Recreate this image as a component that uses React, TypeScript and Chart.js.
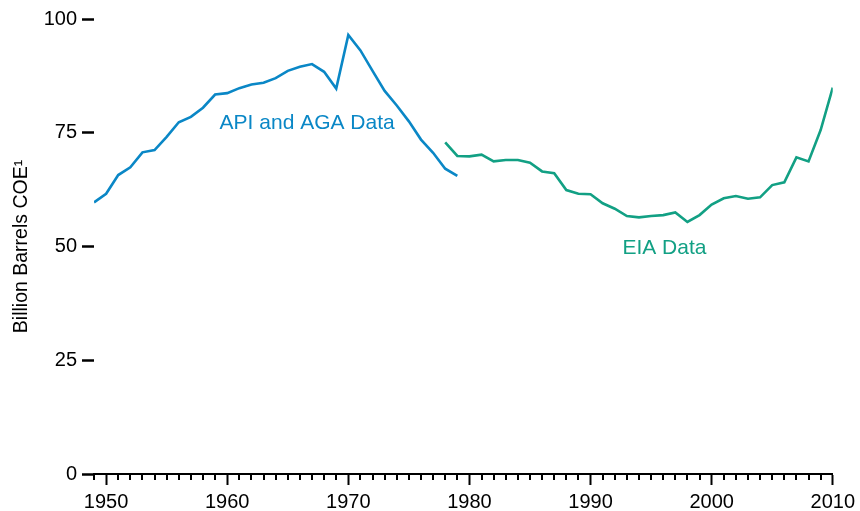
import React, { useEffect, useRef } from "react";
import { Chart, registerables } from "chart.js";

Chart.register(...registerables);

// ---- data ----
const apiYears = [1949, 1950, 1951, 1952, 1953, 1954, 1955, 1956, 1957, 1958, 1959, 1960, 1961, 1962, 1963, 1964, 1965, 1966, 1967, 1968, 1969, 1970, 1971, 1972, 1973, 1974, 1975, 1976, 1977, 1978, 1979];
const apiValues = [59.7, 61.6, 65.7, 67.4, 70.7, 71.2, 74.1, 77.3, 78.5, 80.5, 83.4, 83.7, 84.8, 85.6, 86.0, 87.0, 88.6, 89.5, 90.1, 88.4, 84.7, 96.5, 93.1, 88.6, 84.2, 81.0, 77.5, 73.5, 70.6, 67.1, 65.5];

const eiaYears = [1978, 1979, 1980, 1981, 1982, 1983, 1984, 1985, 1986, 1987, 1988, 1989, 1990, 1991, 1992, 1993, 1994, 1995, 1996, 1997, 1998, 1999, 2000, 2001, 2002, 2003, 2004, 2005, 2006, 2007, 2008, 2009, 2010];
const eiaValues = [72.9, 69.9, 69.8, 70.2, 68.7, 69.0, 69.0, 68.4, 66.5, 66.1, 62.4, 61.6, 61.5, 59.5, 58.3, 56.7, 56.4, 56.7, 56.9, 57.5, 55.4, 56.9, 59.2, 60.6, 61.1, 60.5, 60.8, 63.5, 64.1, 69.6, 68.7, 75.6, 84.9];

const xMajorTicks = [1950, 1960, 1970, 1980, 1990, 2000, 2010];
const yTicks = [0, 25, 50, 75, 100];

const seriesLabels = ["API and AGA Data", "EIA Data"];
const labelAnchors = [
  { x: 1966.6, y: 77.4 },
  { x: 1996.1, y: 49.8 },
];

const yTitle = "Billion Barrels COE\u00b9";

const BLUE = "#0a87c6";
const GREEN = "#12a084";
const FONT = "'Liberation Sans', Arial, Helvetica, sans-serif";

const extrasPlugin = {
  id: "extras",
  afterDraw(chart: any) {
    const { ctx } = chart;
    const xs = chart.scales.x;
    const ys = chart.scales.y;
    const y0 = ys.getPixelForValue(0);
    ctx.save();
    // minor year ticks
    ctx.strokeStyle = "#000";
    ctx.lineWidth = 2;
    for (let yr = Math.ceil(xs.min); yr <= xs.max; yr++) {
      if (yr % 10 === 0) continue;
      const px = Math.round(xs.getPixelForValue(yr));
      ctx.beginPath();
      ctx.moveTo(px, y0);
      ctx.lineTo(px, y0 + 6);
      ctx.stroke();
    }
    // series labels
    ctx.font = `21px ${FONT}`;
    ctx.textAlign = "center";
    ctx.textBaseline = "middle";
    const colors = [BLUE, GREEN];
    seriesLabels.forEach((t, i) => {
      ctx.fillStyle = colors[i];
      ctx.fillText(t, xs.getPixelForValue(labelAnchors[i].x), ys.getPixelForValue(labelAnchors[i].y) + 1);
    });
    ctx.restore();
  },
};

export default function App() {
  const ref = useRef<HTMLCanvasElement | null>(null);
  useEffect(() => {
    if (!ref.current) return;
    const chart = new Chart(ref.current, {
      type: "line",
      data: {
        datasets: [
          {
            label: seriesLabels[0],
            data: apiYears.map((x, i) => ({ x, y: apiValues[i] })),
            borderColor: BLUE,
            borderWidth: 2.6,
            pointRadius: 0,
            tension: 0,
            fill: false,
          },
          {
            label: seriesLabels[1],
            data: eiaYears.map((x, i) => ({ x, y: eiaValues[i] })),
            borderColor: GREEN,
            borderWidth: 2.6,
            pointRadius: 0,
            tension: 0,
            fill: false,
          },
        ],
      },
      options: {
        animation: false,
        responsive: false,
        devicePixelRatio: 1,
        layout: { padding: { left: 0, top: 19, right: 26, bottom: 0 } },
        plugins: { legend: { display: false }, tooltip: { enabled: false } },
        scales: {
          x: {
            type: "linear",
            min: 1949,
            max: 2010,
            afterBuildTicks: (s: any) => {
              s.ticks = xMajorTicks.map((v) => ({ value: v }));
            },
            afterFit: (s: any) => {
              s.height = 37;
            },
            ticks: {
              autoSkip: false,
              maxRotation: 0,
              color: "#000",
              padding: 5,
              font: { family: FONT, size: 20 },
              callback: (v: any) => String(v),
            },
            grid: {
              drawOnChartArea: false,
              tickLength: 11,
              tickWidth: 2,
              tickColor: "#000",
            },
            border: { display: true, color: "#000", width: 2 },
          },
          y: {
            min: 0,
            max: 100,
            afterBuildTicks: (s: any) => {
              s.ticks = yTicks.map((v) => ({ value: v }));
            },
            afterFit: (s: any) => {
              s.width = 94;
            },
            ticks: {
              color: "#000",
              padding: 5,
              font: { family: FONT, size: 20 },
            },
            grid: {
              drawOnChartArea: false,
              tickLength: 12,
              tickWidth: 2.5,
              tickColor: "#000",
            },
            border: { display: false },
            title: {
              display: true,
              text: yTitle,
              color: "#000",
              font: { family: FONT, size: 19.5 },
              padding: { top: 10, bottom: 0 },
            },
          },
        },
      },
      plugins: [extrasPlugin],
    });
    return () => chart.destroy();
  }, []);
  return (
    <div style={{ position: "fixed", left: 0, top: 0, width: 860, height: 511, background: "#fff" }}>
      <canvas ref={ref} width={860} height={511} />
    </div>
  );
}
